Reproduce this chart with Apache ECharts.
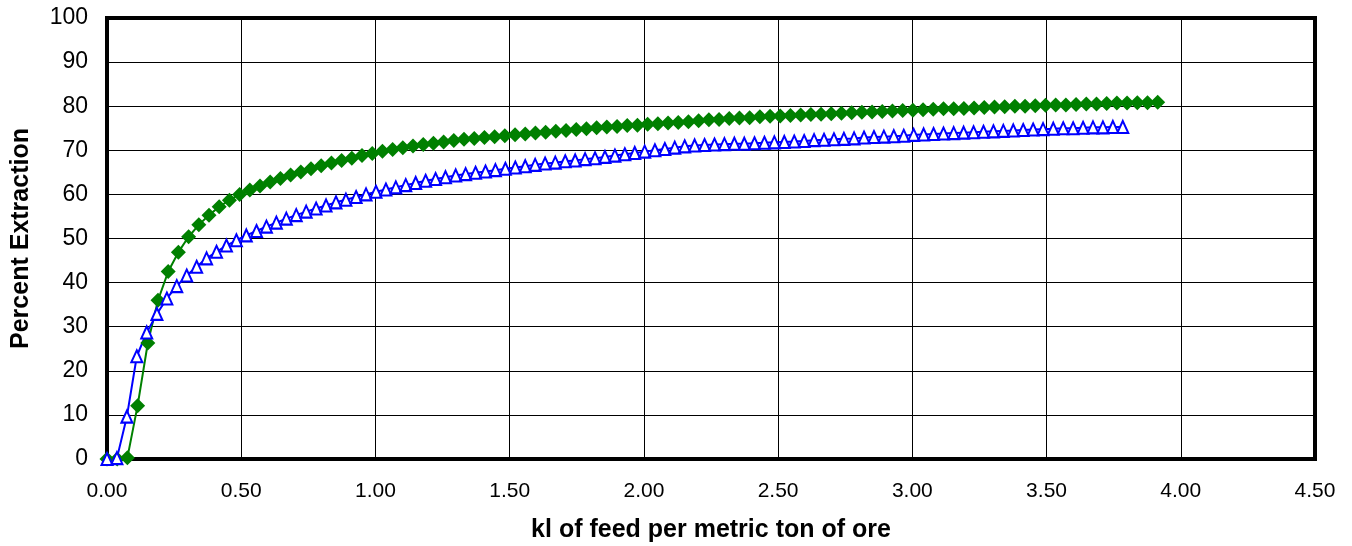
<!DOCTYPE html>
<html>
<head>
<meta charset="utf-8">
<script src="https://cdn.jsdelivr.net/npm/echarts@6/dist/echarts.min.js"></script>
<style>
  html, body { margin: 0; padding: 0; background: #fff; }
  #chart { width: 1352px; height: 546px; }
</style>
</head>
<body>
<div id="chart"></div>
<script>
// Feed volume (kl per metric ton of ore) and percent extraction for the two columns
const feedA = [0.000,0.038,0.076,0.114,0.152,0.190,0.228,0.266,0.304,0.342,0.380,0.418,0.456,0.494,0.532,0.570,0.608,0.646,0.684,0.722,0.760,0.798,0.836,0.874,0.912,0.950,0.988,1.026,1.064,1.102,1.140,1.178,1.216,1.254,1.292,1.330,1.368,1.406,1.444,1.482,1.520,1.558,1.596,1.634,1.672,1.710,1.748,1.786,1.824,1.862,1.900,1.938,1.976,2.014,2.052,2.090,2.128,2.166,2.204,2.242,2.280,2.318,2.356,2.394,2.432,2.470,2.508,2.546,2.584,2.622,2.660,2.698,2.736,2.774,2.812,2.850,2.888,2.926,2.964,3.002,3.040,3.078,3.116,3.154,3.192,3.230,3.268,3.306,3.344,3.382,3.420,3.458,3.496,3.534,3.572,3.610,3.648,3.686,3.724,3.762,3.800,3.838,3.876,3.914];
const extractionA = [0,0,0.3,12.1,26.3,36.0,42.5,46.9,50.4,53.1,55.3,57.2,58.7,60.0,61.0,61.9,62.8,63.6,64.4,65.1,65.8,66.5,67.1,67.7,68.2,68.8,69.3,69.8,70.2,70.6,71.0,71.3,71.6,71.9,72.2,72.5,72.7,72.9,73.1,73.3,73.5,73.7,73.9,74.1,74.3,74.5,74.7,74.9,75.1,75.3,75.4,75.6,75.7,75.9,76.0,76.2,76.3,76.5,76.7,76.9,77.0,77.2,77.3,77.4,77.6,77.7,77.8,77.9,78.0,78.1,78.2,78.3,78.4,78.5,78.6,78.7,78.8,78.9,79.0,79.1,79.2,79.3,79.4,79.4,79.5,79.6,79.7,79.8,79.9,80.0,80.0,80.1,80.2,80.3,80.3,80.4,80.5,80.5,80.6,80.7,80.7,80.8,80.8,80.9];

const feedB = [0.000,0.037,0.074,0.111,0.148,0.186,0.223,0.260,0.297,0.334,0.371,0.408,0.445,0.482,0.519,0.557,0.594,0.631,0.668,0.705,0.742,0.779,0.816,0.853,0.890,0.928,0.965,1.002,1.039,1.076,1.113,1.150,1.187,1.224,1.261,1.299,1.336,1.373,1.410,1.447,1.484,1.521,1.558,1.595,1.632,1.670,1.707,1.744,1.781,1.818,1.855,1.892,1.929,1.966,2.003,2.041,2.078,2.115,2.152,2.189,2.226,2.263,2.300,2.337,2.374,2.412,2.449,2.486,2.523,2.560,2.597,2.634,2.671,2.708,2.745,2.783,2.820,2.857,2.894,2.931,2.968,3.005,3.042,3.079,3.116,3.154,3.191,3.228,3.265,3.302,3.339,3.376,3.413,3.450,3.487,3.525,3.562,3.599,3.636,3.673,3.710,3.747,3.784];
const extractionB = [0,0.2,9.6,23.3,28.7,32.9,36.4,39.2,41.6,43.6,45.5,47.0,48.4,49.6,50.7,51.7,52.7,53.6,54.5,55.3,56.1,56.8,57.5,58.2,58.8,59.4,60.0,60.6,61.1,61.6,62.1,62.6,63.1,63.5,63.9,64.3,64.6,64.9,65.2,65.5,65.8,66.1,66.4,66.7,67.0,67.2,67.5,67.7,68.0,68.2,68.5,68.8,69.1,69.4,69.7,70.0,70.3,70.6,70.9,71.1,71.2,71.3,71.4,71.5,71.5,71.6,71.7,71.8,71.9,72.0,72.1,72.3,72.4,72.5,72.6,72.7,72.9,73.0,73.1,73.2,73.3,73.5,73.6,73.7,73.8,73.9,74.0,74.1,74.2,74.3,74.4,74.5,74.6,74.7,74.8,74.9,75.0,75.0,75.1,75.2,75.2,75.3,75.3];

const xTitle = 'kl of feed per metric ton of ore';
const yTitle = 'Percent Extraction';

const pairs = (xs, ys) => xs.map((x, i) => [x, ys[i]]);
const font = '"Liberation Sans", Arial, sans-serif';

const chart = echarts.init(document.getElementById('chart'), null, { renderer: 'canvas' });
chart.setOption({
  animation: false,
  backgroundColor: '#fff',
  grid: {
    left: 107, top: 18, right: 37, bottom: 87,
    containLabel: false, outerBoundsMode: 'none',
    show: true, borderColor: '#000', borderWidth: 4, backgroundColor: 'transparent'
  },
  xAxis: {
    type: 'value', min: 0, max: 4.5, interval: 0.5,
    name: xTitle, nameLocation: 'middle', nameGap: 59,
    nameTextStyle: { fontFamily: font, fontSize: 25, fontWeight: 'bold', color: '#000' },
    axisLine: { show: false }, axisTick: { show: false },
    axisLabel: { margin: 22, fontFamily: font, fontSize: 21, color: '#000',
                 formatter: v => v.toFixed(2) },
    splitLine: { show: true, lineStyle: { color: '#000', width: 1 } }
  },
  yAxis: {
    type: 'value', min: 0, max: 100, interval: 10,
    name: yTitle, nameLocation: 'middle', nameGap: 73,
    nameTextStyle: { fontFamily: font, fontSize: 25, fontWeight: 'bold', color: '#000' },
    axisLine: { show: false }, axisTick: { show: false },
    axisLabel: { margin: 19, fontFamily: font, fontSize: 23, color: '#000' },
    splitLine: { show: true, lineStyle: { color: '#000', width: 1 } }
  },
  series: [
    {
      name: 'Column A', type: 'line', data: pairs(feedA, extractionA),
      clip: false, symbol: 'diamond', symbolSize: 15,
      itemStyle: { color: '#008000' },
      lineStyle: { color: '#008000', width: 2 }
    },
    {
      name: 'Column B', type: 'line', data: pairs(feedB, extractionB),
      clip: false, symbol: 'triangle', symbolSize: [11, 12],
      itemStyle: { color: '#ffffff', borderColor: '#0000ff', borderWidth: 2 },
      lineStyle: { color: '#0000ff', width: 2 }
    }
  ]
});
</script>
</body>
</html>
